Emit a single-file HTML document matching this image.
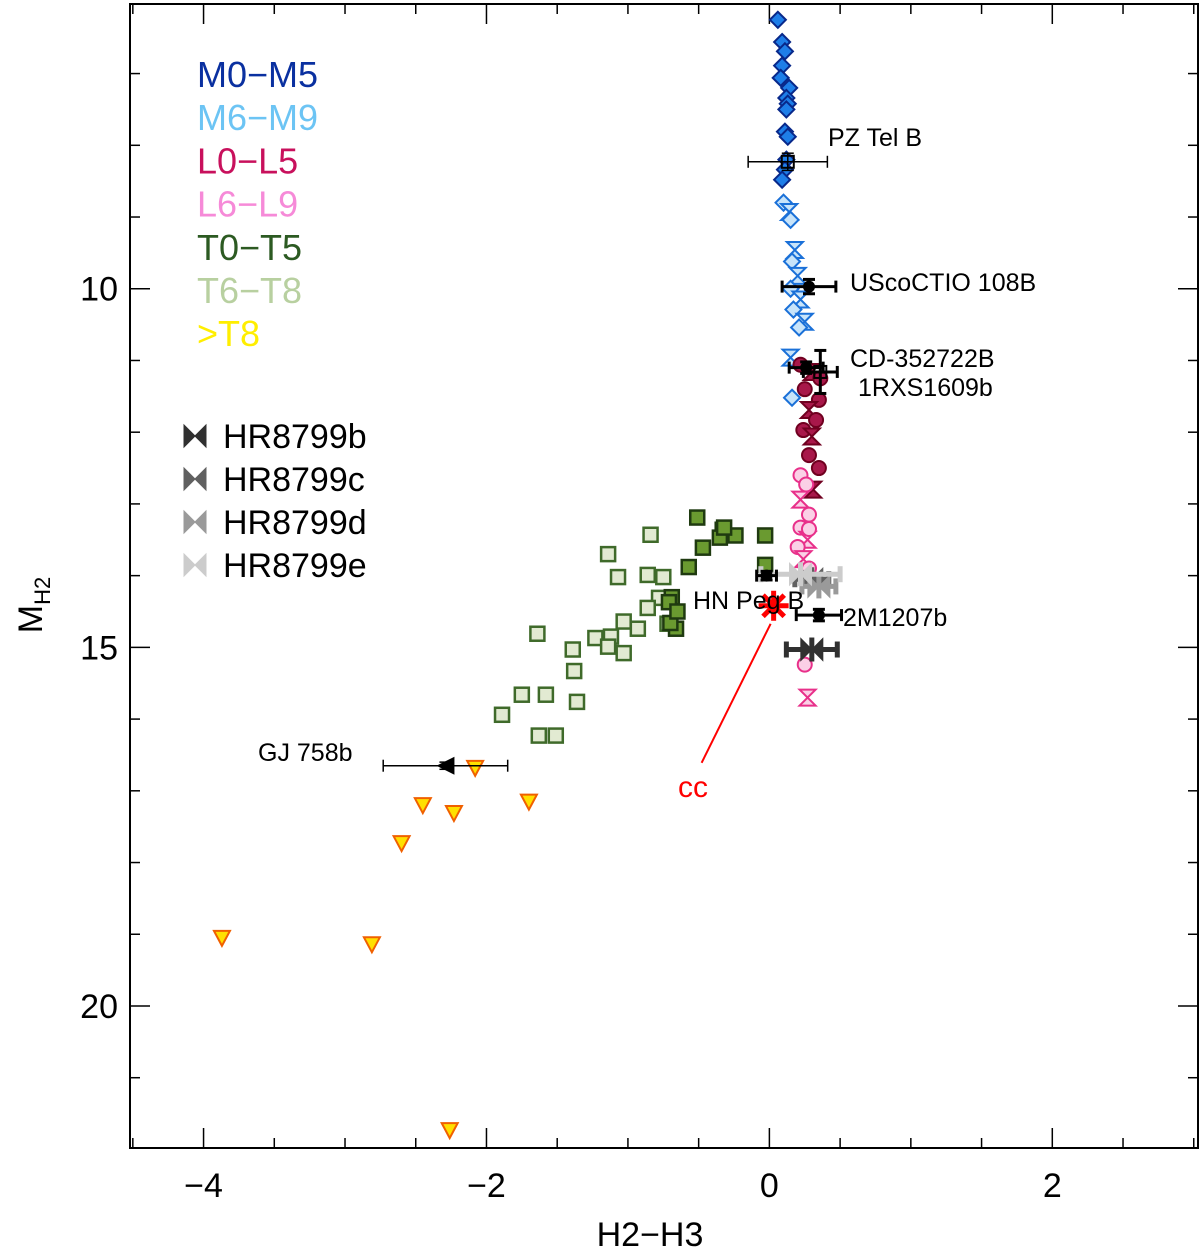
<!DOCTYPE html>
<html><head><meta charset="utf-8"><style>
html,body{margin:0;padding:0;background:#fff}
svg{display:block;font-family:"Liberation Sans",sans-serif}
</style></head><body>
<svg id="chart" width="1200" height="1252" viewBox="0 0 1200 1252">
<g id="axes"></g>
<g id="marks"></g>
<g id="labels"></g>
</svg>
<script>
const xTicks=[-4,-2,0,2];
const yTicks=[10,15,20];
const xTickLabels=["\u22124","\u22122","0","2"];
const yTickLabels=["10","15","20"];
const m05X=[0.06,0.09,0.11,0.09,0.08,0.14,0.12,0.13,0.12,0.11,0.13,0.12,0.11,0.09];
const m05Y=[6.25,6.56,6.69,6.89,7.06,7.20,7.34,7.42,7.50,7.81,7.88,8.20,8.34,8.48];
const m69X=[0.10,0.14,0.15,0.18,0.16,0.20,0.15,0.22,0.17,0.25,0.21,0.15,0.16];
const m69Y=[8.80,8.93,9.04,9.46,9.62,9.82,10.0,10.15,10.29,10.46,10.54,10.96,11.52];
const l05X=[0.22,0.30,0.25,0.35,0.28,0.33,0.24,0.30,0.28,0.35,0.31,0.36];
const l05Y=[11.06,11.16,11.40,11.55,11.69,11.83,11.97,12.06,12.32,12.50,12.80,11.25];
const l69X=[0.22,0.26,0.22,0.28,0.22,0.27,0.20,0.28,0.24,0.28,0.25,0.27];
const l69Y=[12.60,12.73,12.94,13.15,13.33,13.50,13.60,13.35,13.77,13.90,15.24,15.70];
const t05X=[-0.51,-0.33,-0.35,-0.24,-0.47,-0.32,-0.03,-0.57,-0.69,-0.71,-0.66,-0.70,-0.65,-0.03];
const t05Y=[13.19,13.36,13.47,13.44,13.61,13.33,13.44,13.88,14.30,14.37,14.74,14.66,14.50,13.85];
const t68X=[-0.84,-1.14,-1.07,-0.86,-0.75,-0.78,-0.86,-0.72,-1.03,-0.93,-1.64,-1.39,-1.23,-1.12,-1.14,-1.03,-1.38,-1.75,-1.58,-1.36,-1.89,-1.63,-1.51];
const t68Y=[13.43,13.70,14.02,13.99,14.02,14.31,14.45,14.67,14.64,14.74,14.81,15.03,14.87,14.85,14.99,15.08,15.33,15.66,15.66,15.76,15.94,16.23,16.23];
const yX=[-2.08,-2.45,-2.23,-1.70,-2.60,-3.87,-2.81,-2.26];
const yY=[16.68,17.20,17.31,17.15,17.73,19.05,19.14,21.73];
const objNames=["PZ Tel B","UScoCTIO 108B","CD-352722B","1RXS1609b","2M1207b","GJ 758b","HN Peg B"];
const objX=[0.13,0.28,0.26,0.36,0.35,-2.29,-0.02];
const objY=[8.23,9.97,11.10,11.16,14.55,16.65,14.00];
const objXerr=[0.28,0.19,0.12,0.12,0.16,0.44,0.07];
const objYerr=[0.12,0.10,0.08,0.30,0.08,0.05,0.06];
const hrNames=["HR8799b","HR8799c","HR8799d","HR8799e"];
const hrX=[0.30,0.30,0.35,0.22];
const hrY=[15.03,14.05,14.15,13.98];
const hrXerr=[0.18,0.12,0.12,0.28];
const ccX=[0.03];
const ccY=[14.42];

const L=130,R=1198,T=4,B=1148,X0=-4.52,X1=3.03,Y0=6.03,Y1=21.98;
const sx=v=>L+(v-X0)/(X1-X0)*(R-L);
const sy=v=>T+(v-Y0)/(Y1-Y0)*(B-T);
const NS="http://www.w3.org/2000/svg";
function mk(parent,tag,attrs,text){const e=document.createElementNS(NS,tag);for(const k in attrs)e.setAttribute(k,attrs[k]);if(text!==undefined)e.textContent=text;parent.appendChild(e);return e;}
const axes=document.getElementById('axes'),marks=document.getElementById('marks'),labels=document.getElementById('labels');

let fr=mk(axes,'rect',{x:L,y:T,width:R-L,height:B-T,fill:'none',stroke:'#000','stroke-width':2});


for(let v=-4.5;v<=3.0001;v+=0.5){const px=sx(v);const major=Math.abs(v-Math.round(v/2)*2)<1e-6;const len=major?20:10;
 let a=mk(axes,'line',{x1:px,y1:B,x2:px,y2:B-len,stroke:'#000','stroke-width':1.5});
 
 
 let b=mk(axes,'line',{x1:px,y1:T,x2:px,y2:T+len,stroke:'#000','stroke-width':1.5});
 
 }
for(let v=7;v<=21;v+=1){const py=sy(v);const major=v%5===0;const len=major?20:10;
 let a=mk(axes,'line',{x1:L,y1:py,x2:L+len,y2:py,stroke:'#000','stroke-width':1.5});
 
 
 let b=mk(axes,'line',{x1:R,y1:py,x2:R-len,y2:py,stroke:'#000','stroke-width':1.5});
 
 }
xTicks.forEach((v,i)=>{let t=mk(axes,'text',{x:sx(v),y:1197,'text-anchor':'middle','font-size':34},xTickLabels[i]);
 
 });
yTicks.forEach((v,i)=>{let t=mk(axes,'text',{x:118,y:sy(v)+12,'text-anchor':'end','font-size':34},yTickLabels[i]);
 
 });
let xt=mk(axes,'text',{x:650,y:1246,'text-anchor':'middle','font-size':34},'H2\u2212H3');


let yt=mk(axes,'text',{transform:'translate(42,605) rotate(-90)','text-anchor':'middle','font-size':34});


yt.innerHTML='M<tspan font-size="22" dy="8">H2</tspan>';

function shape(g,kind,cx,cy,fill,stroke,s){s=s||8;let e;
 if(kind==='d')e=mk(g,'polygon',{points:`${cx},${cy-s} ${cx+s},${cy} ${cx},${cy+s} ${cx-s},${cy}`,fill,stroke,'stroke-width':2});
 else if(kind==='h')e=mk(g,'polygon',{points:`${cx-s},${cy-s} ${cx+s},${cy-s} ${cx-s},${cy+s} ${cx+s},${cy+s}`,fill,stroke,'stroke-width':2});
 else if(kind==='b')e=mk(g,'polygon',{points:`${cx-s},${cy-s} ${cx+s},${cy+s} ${cx+s},${cy-s} ${cx-s},${cy+s}`,fill,stroke,'stroke-width':1});
 else if(kind==='c')e=mk(g,'circle',{cx,cy,r:s-1,fill,stroke,'stroke-width':2});
 else if(kind==='s')e=mk(g,'rect',{x:cx-s+1,y:cy-s+1,width:2*s-2,height:2*s-2,fill,stroke,'stroke-width':2.5});
 else if(kind==='t')e=mk(g,'polygon',{points:`${cx-s},${cy-s+1} ${cx+s},${cy-s+1} ${cx},${cy+s}`,fill,stroke,'stroke-width':2});
 return e;}
function series(name,xs,ys,kinds,fill,stroke){const g=mk(marks,'g',{});
 
 
 xs.forEach((v,i)=>{const e=shape(g,kinds[i%kinds.length],sx(v),sy(ys[i]),fill,stroke);
  
  });}
series('t6-t8-series',t68X,t68Y,['s'],'#e2ead2','#3f6a2a');
series('t0-t5-series',t05X,t05Y,['s'],'#6a9a30','#1f3a10');
series('gt8-series',yX,yY,['t'],'#ffe000','#f06000');
series('m0-m5-series',m05X,m05Y,['d'],'#1e7ee8','#08288a');
series('m6-m9-series',m69X,m69Y,['d','h'],'#c8e4fa','#1a70d8');
series('l0-l5-series',l05X,l05Y,['c','h','c'],'#a8184a','#700020');
series('l6-l9-series',l69X,l69Y,['c','c','h'],'#fbd0e6','#e8308a');

const hrCol=['#303030','#606060','#9a9a9a','#cccccc'];
hrX.forEach((v,i)=>{const g=mk(marks,'g',{});
 
 
 const cx=sx(v),cy=sy(hrY[i]),x1=sx(v-hrXerr[i]),x2=sx(v+hrXerr[i]);
 mk(g,'line',{x1,y1:cy,x2,y2:cy,stroke:hrCol[i],'stroke-width':5});
 mk(g,'line',{x1,y1:cy-8,x2:x1,y2:cy+8,stroke:hrCol[i],'stroke-width':5});
 mk(g,'line',{x1:x2,y1:cy-8,x2,y2:cy+8,stroke:hrCol[i],'stroke-width':5});
 mk(g,'line',{x1:cx,y1:cy-12,x2:cx,y2:cy+12,stroke:hrCol[i],'stroke-width':5});
 shape(g,'b',cx,cy,hrCol[i],hrCol[i],11);});

objX.forEach((v,i)=>{const g=mk(marks,'g',{});
 
 
 const cx=sx(v),cy=sy(objY[i]),x1=sx(v-objXerr[i]),x2=sx(v+objXerr[i]),y1=sy(objY[i]-objYerr[i]),y2=sy(objY[i]+objYerr[i]);
 const w=(i===0||i===5)?1.5:3;
 mk(g,'line',{x1,y1:cy,x2,y2:cy,stroke:'#000','stroke-width':w});
 mk(g,'line',{x1,y1:cy-6,x2:x1,y2:cy+6,stroke:'#000','stroke-width':w});
 mk(g,'line',{x1:x2,y1:cy-6,x2,y2:cy+6,stroke:'#000','stroke-width':w});
 mk(g,'line',{x1:cx,y1,x2:cx,y2,stroke:'#000','stroke-width':w});
 mk(g,'line',{x1:cx-6,y1,x2:cx+6,y2:y1,stroke:'#000','stroke-width':w});
 mk(g,'line',{x1:cx-6,y1:y2,x2:cx+6,y2,stroke:'#000','stroke-width':w});
 if(i===5)mk(g,'polygon',{points:`${cx-9},${cy} ${cx+9},${cy-9} ${cx+9},${cy+9}`,fill:'#000'});
 else if(i===0||i===3)mk(g,'rect',{x:cx-6,y:cy-6,width:12,height:12,fill:'none',stroke:'#000','stroke-width':2});
 else mk(g,'circle',{cx,cy,r:6,fill:'#000'});});

const ccg=mk(marks,'g',{});


ccX.forEach((v,i)=>{const cx=sx(v),cy=sy(ccY[i]);
 for(let a=0;a<4;a++){const an=a*Math.PI/4;mk(ccg,'line',{x1:cx-15*Math.cos(an),y1:cy-15*Math.sin(an),x2:cx+15*Math.cos(an),y2:cy+15*Math.sin(an),stroke:'#ff0000','stroke-width':5});}
 mk(ccg,'line',{x1:cx-3,y1:cy+18,x2:cx-72,y2:cy+157,stroke:'#ff0000','stroke-width':2});});
let cct=mk(labels,'text',{x:693,y:797,'text-anchor':'middle','font-size':30,fill:'#ff0000'},'cc');



const annPos=[[828,146],[850,291],[850,367],[858,396],[843,626],[258,761],[693,609]];
objNames.forEach((n,i)=>{let t=mk(labels,'text',{x:annPos[i][0],y:annPos[i][1],'font-size':25,fill:'#000'},n);
 
 });

const legNames=["M0\u2212M5","M6\u2212M9","L0\u2212L5","L6\u2212L9","T0\u2212T5","T6\u2212T8",">T8"];
const legCols=['#0a30a0','#6cc4f4','#c8105c','#f68ad8','#2c5a22','#b8d0a0','#ffee00'];
legNames.forEach((n,i)=>{let t=mk(labels,'text',{x:197,y:87+i*43.2,'font-size':36,fill:legCols[i]},n);
 
 });
hrNames.forEach((n,i)=>{const cy=436+i*43;
 let m=shape(labels,'b',195,cy,hrCol[i],hrCol[i],11);
 
 
 let t=mk(labels,'text',{x:223,y:cy+12,'font-size':34,fill:'#000'},n);
 
 });
</script>
</body></html>
